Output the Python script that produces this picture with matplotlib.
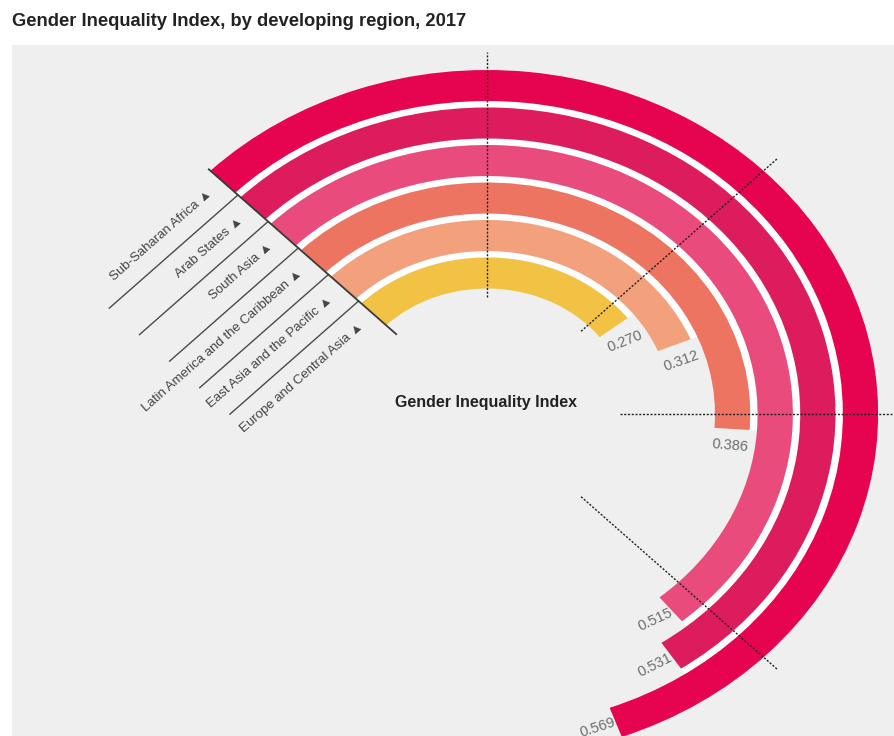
import numpy as np
import matplotlib.pyplot as plt
from matplotlib.patches import Rectangle

# data, outermost ring first
regions = ['Sub-Saharan Africa', 'Arab States', 'South Asia',
           'Latin America and the Caribbean', 'East Asia and the Pacific',
           'Europe and Central Asia']
gii = [0.569, 0.531, 0.515, 0.386, 0.312, 0.270]
ref_ticks = [0.125, 0.25, 0.375, 0.5]

colors = ['#e6034f', '#dc1c5c', '#e94b7d', '#ee7462', '#f2a17c', '#f2c244']
value_rot = [18, 27, 25, -5, 20, 22]
FONT = ['Liberation Sans', 'DejaVu Sans']

W, H = 894, 736
fig = plt.figure(figsize=(W / 100, H / 100), dpi=100)
fig.patches.append(Rectangle((12 / W, 0), 1, 1 - 45 / H, transform=fig.transFigure,
                             facecolor='#efefef', edgecolor='none', zorder=-5))

# polar axes, stretched horizontally like the original picture
cx, cy = 487, 414
rmax = 380
sx = 1.137
ax = fig.add_axes([(cx - rmax * sx) / W, (H - cy - rmax) / H,
                   2 * rmax * sx / W, 2 * rmax / H], projection='polar')
ax.set_zorder(1)
ax.set_aspect('auto')
ax.set_theta_zero_location('N', offset=45)
ax.set_theta_direction(-1)
ax.set_ylim(0, rmax)
ax.axis('off')

n = len(gii)
step = 37.5
band = 31
base = 125.5

for i, (v, c) in enumerate(zip(gii, colors)):
    k = n - 1 - i
    ax.bar(0, band, width=v * 2 * np.pi, bottom=base + step * k, align='edge',
           color=c, edgecolor='none', zorder=2)
    rc = base + step * k + band / 2
    ax.text(v * 2 * np.pi + 17 / rc, rc, f'{v:.3f}', rotation=value_rot[i],
            rotation_mode='anchor', ha='center', va='center',
            color='#6d6d6d', fontsize=10.5, family=FONT)

# white gaps between neighbouring rings
for i in range(n - 1):
    k = n - 1 - i
    ax.bar(0, step - band, width=min(gii[i], gii[i + 1]) * 2 * np.pi,
           bottom=base + step * k - (step - band), align='edge',
           color='white', edgecolor='none', zorder=1.5)

# leader lines between the strips
L = 160
for k in range(1, n):
    rg = base + step * k - (step - band) / 2
    ax.plot([0, -np.arctan(L / rg)], [rg, np.hypot(rg, L)],
            color='#4a4a4a', lw=1, zorder=3)

# start line
ax.plot([0, 0], [113, 346], color='#3a3a3a', lw=1.3, zorder=4)

# reference dotted lines
for v in ref_ticks:
    th = v * 2 * np.pi
    ax.plot([th, th], [117, 362], color='#222222', lw=1.0,
            ls=(0, (1.5, 1.2)), zorder=5)

# region labels along the strips
for i, name in enumerate(regions):
    k = n - 1 - i
    rc = base + step * k + band / 2
    th_a, r_a = -np.arctan(15 / rc), np.hypot(rc, 15)
    th_b, r_b = -np.arctan(100 / rc), np.hypot(rc, 100)
    pa = ax.transData.transform((th_a, r_a))
    pb = ax.transData.transform((th_b, r_b))
    rot = np.degrees(np.arctan2(pa[1] - pb[1], pa[0] - pb[0]))
    ax.text(th_a, r_a, name + ' \u25b2', rotation=rot, rotation_mode='anchor',
            ha='right', va='center', fontsize=9.5, color='#444444', family=FONT)

ax.set_ylim(0, rmax)

fig.text(12 / W, 1 - 21 / H, 'Gender Inequality Index, by developing region, 2017',
         fontsize=13.2, fontweight='bold', family=FONT, va='center', color='#222222')
fig.text(395 / W, 1 - 403 / H, 'Gender Inequality Index', fontsize=11.5,
         fontweight='bold', family=FONT, va='center', color='#222222')

fig.savefig('out.png', dpi=100)
